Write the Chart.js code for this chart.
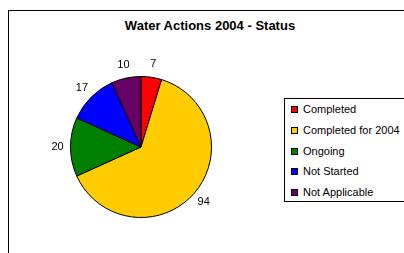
<!DOCTYPE html>
<html><head><meta charset="utf-8">
<script src="https://cdn.jsdelivr.net/npm/chart.js@4.4.0/dist/chart.umd.min.js"></script>
<style>
html,body{margin:0;padding:0;background:#fff;}
#wrap{position:relative;width:404px;height:253px;overflow:hidden;font-family:"Liberation Sans",Arial,sans-serif;}
#frame{position:absolute;left:8px;top:10px;width:420px;height:260px;border-left:1px solid #000;border-top:1px solid #000;}
#title{position:absolute;left:0;width:420px;top:18px;text-align:center;font-weight:bold;font-size:13px;color:#000;}
#c{position:absolute;left:0;top:0;}
#legend{position:absolute;left:284px;top:98px;width:130px;height:102px;border:1px solid #000;background:#fff;}
.item{position:absolute;left:6px;font-size:11px;color:#000;white-space:nowrap;height:14px;line-height:14px;}
.sw{display:inline-block;width:5px;height:5px;border:1px solid #000;margin-right:5px;vertical-align:0px;}
</style></head>
<body><div id="wrap">
<div id="frame"></div>
<div id="title">Water Actions 2004 - Status</div>
<canvas id="c" width="404" height="253"></canvas>
<div id="legend"></div>
</div>
<script>
const categories = ["Completed","Completed for 2004","Ongoing","Not Started","Not Applicable"];
const values = [7,94,20,17,10];
const colors = ["#FF0000","#FFCC00","#008000","#0000FF","#660066"];

const lg = document.getElementById('legend');
categories.forEach((c,i)=>{
  const d=document.createElement('div');
  d.className='item';
  d.style.top=(3+i*20.8)+'px';
  d.innerHTML='<span class="sw" style="background:'+colors[i]+'"></span>'+c;
  lg.appendChild(d);
});

const outLabels = {
  id:'outLabels',
  afterDatasetsDraw(chart){
    const ctx=chart.ctx;
    const meta=chart.getDatasetMeta(0);
    ctx.save();
    ctx.font='11px "Liberation Sans", Arial, sans-serif';
    ctx.fillStyle='#000';
    ctx.textAlign='center';
    ctx.textBaseline='middle';
    meta.data.forEach((arc,i)=>{
      const p=arc.getProps(['x','y','startAngle','endAngle','outerRadius'],true);
      const a=(p.startAngle+p.endAngle)/2;
      const r=p.outerRadius+13;
      ctx.fillText(String(values[i]), p.x+Math.cos(a)*r, p.y+Math.sin(a)*r);
    });
    ctx.restore();
  }
};

new Chart(document.getElementById('c'),{
  type:'pie',
  data:{labels:categories,datasets:[{data:values,backgroundColor:colors,borderColor:'#000',borderWidth:1}]},
  options:{
    responsive:false,animation:false,
    layout:{padding:{left:70,right:192,top:76,bottom:35}},
    plugins:{legend:{display:false},tooltip:{enabled:false},title:{display:false}}
  },
  plugins:[outLabels]
});
</script>
</body></html>
